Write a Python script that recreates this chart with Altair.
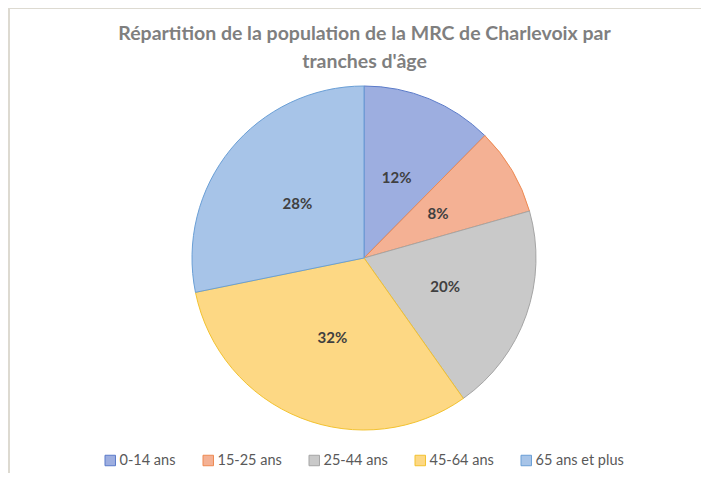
import altair as alt
import pandas as pd

categories = ["0-14 ans", "15-25 ans", "25-44 ans", "45-64 ans", "65 ans et plus"]
values = [12.4, 8.2, 19.6, 31.6, 28.2]
labels = ["12%", "8%", "20%", "32%", "28%"]
fills = ["#9DAEE0", "#F4B194", "#C9C9C9", "#FDD884", "#A7C4E8"]
strokes = ["#5B7BC9", "#EE8A52", "#A5A5A5", "#F2C230", "#6A9FD6"]

df = pd.DataFrame({"cat": categories, "val": values, "lab": labels, "order": list(range(len(categories)))})

FONT = "Lato"
CX, CY, R = 356, 250, 172

base = alt.Chart(df).encode(
    theta=alt.Theta("val:Q", stack=True),
    order=alt.Order("order:Q"),
)

color_scale = alt.Scale(domain=categories, range=fills)
stroke_scale = alt.Scale(domain=categories, range=strokes)

pie = base.mark_arc(outerRadius=R, strokeWidth=1, x=CX, y=CY).encode(
    color=alt.Color("cat:N", scale=color_scale, sort=categories,
                    legend=alt.Legend(title=None, orient="none", direction="horizontal",
                                      legendX=95, legendY=445, symbolType="square",
                                      symbolSize=110, symbolStrokeWidth=1,
                                      labelFont=FONT, labelFontSize=14.5, labelColor="#595959",
                                      labelOffset=2, columnPadding=25)),
    stroke=alt.Stroke("cat:N", scale=stroke_scale, sort=categories),
)

text = base.mark_text(radius=R / 2, x=CX, y=CY, font=FONT, fontSize=15,
                      fontWeight="bold", color="#404040").encode(text="lab:N")

frame_top = alt.Chart(df).mark_rule(color="#DDDAD1", strokeWidth=2).encode(
    x=alt.value(1), x2=alt.value(693), y=alt.value(0))
frame_left = alt.Chart(df).mark_rule(color="#DDDAD1", strokeWidth=2).encode(
    x=alt.value(1), y=alt.value(0), y2=alt.value(465))

chart = alt.layer(frame_top, frame_left, pie, text).properties(
    width=693, height=465,
    autosize=alt.AutoSizeParams(type="none"),
    padding=0,
    title=alt.TitleParams(
        text=["Répartition  de la population de la MRC de Charlevoix par", "tranches d'âge"],
        anchor="middle", offset=-84, dx=10, baseline="bottom",
        font=FONT, fontSize=19.5, fontWeight="bold", color="#7F7F7F", lineHeight=28),
).configure_view(stroke=None).configure(background="white")

chart.save("out.html", embed_options={"renderer": "svg", "actions": False})
